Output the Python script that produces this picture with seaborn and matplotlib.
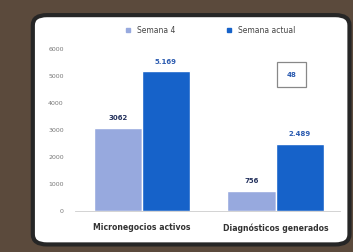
import matplotlib
matplotlib.use("Agg")
import matplotlib.pyplot as plt
from matplotlib.patches import FancyBboxPatch
import seaborn as sns
import pandas as pd

categorias = ["Micronegocios activos", "Diagnósticos generados"]
semana_4 = [3062, 756]
semana_actual = [5169, 2489]
etiquetas_4 = ["3062", "756"]
etiquetas_actual = ["5.169", "2.489"]
series = ["Semana 4", "Semana actual"]
recuadro = "48"

df = pd.DataFrame({
    "categoria": categorias * 2,
    "valor": semana_4 + semana_actual,
    "serie": [series[0]] * 2 + [series[1]] * 2,
})

sns.set_style("white")
plt.rcParams["font.family"] = ["DejaVu Sans"]

fig = plt.figure(figsize=(3.53, 2.52), dpi=100)
fig.patch.set_facecolor("#5b4a3c")

# white rounded card
card = FancyBboxPatch((0.093, 0.03), 0.897, 0.91, boxstyle="round,pad=0,rounding_size=0.04",
                      transform=fig.transFigure, facecolor="white", edgecolor="#262626",
                      linewidth=3, zorder=-10)
fig.patches.append(card)

ax = fig.add_axes([0.212, 0.163, 0.751, 0.643])
ax.set_facecolor("none")
palette = {"Semana 4": "#97a9de", "Semana actual": "#1662c9"}
sns.barplot(data=df, x="categoria", y="valor", hue="serie", palette=palette,
            width=0.72, ax=ax, legend=False, saturation=1)

ax.set_ylim(0, 6000)
ax.set_xlim(-0.5, 1.48)
ax.set_yticks(range(0, 6001, 1000))
ax.set_yticklabels([str(v) for v in range(0, 6001, 1000)], fontsize=4.5, color="#777777")
ax.tick_params(axis="y", length=0, pad=8)
ax.tick_params(axis="x", length=0, pad=9)
ax.set_xticks([0, 1])
ax.set_xticklabels(categorias, fontsize=5.6, fontweight="bold", color="#333333")
ax.set_xlabel("")
ax.set_ylabel("")
for s in ["top", "right", "left"]:
    ax.spines[s].set_visible(False)
ax.spines["bottom"].set_color("#cccccc")
ax.spines["bottom"].set_linewidth(0.6)

for i, (v4, va) in enumerate(zip(semana_4, semana_actual)):
    ax.text(i - 0.18, v4 + 250, etiquetas_4[i], ha="center", va="bottom",
            fontsize=5, fontweight="bold", color="#26335e")
    ax.text(i + 0.18, va + 250, etiquetas_actual[i], ha="center", va="bottom",
            fontsize=5, fontweight="bold", color="#2b5bb0")

ax.text(1.12, 5050, recuadro, ha="center", va="center", fontsize=5, fontweight="bold",
        color="#2b5bb0",
        bbox=dict(boxstyle="square,pad=1.4", facecolor="white", edgecolor="#888888", linewidth=0.9))

# legend
handles = [plt.Line2D([], [], marker="s", linestyle="", markersize=3.5, color=palette[s]) for s in series]
fig.legend(handles, series, loc="center", bbox_to_anchor=(0.59, 0.88), ncol=2, frameon=False,
           fontsize=5.5, handletextpad=0.2, columnspacing=6, labelcolor="#444444")

fig.savefig("out.png", dpi=100, facecolor=fig.get_facecolor())
